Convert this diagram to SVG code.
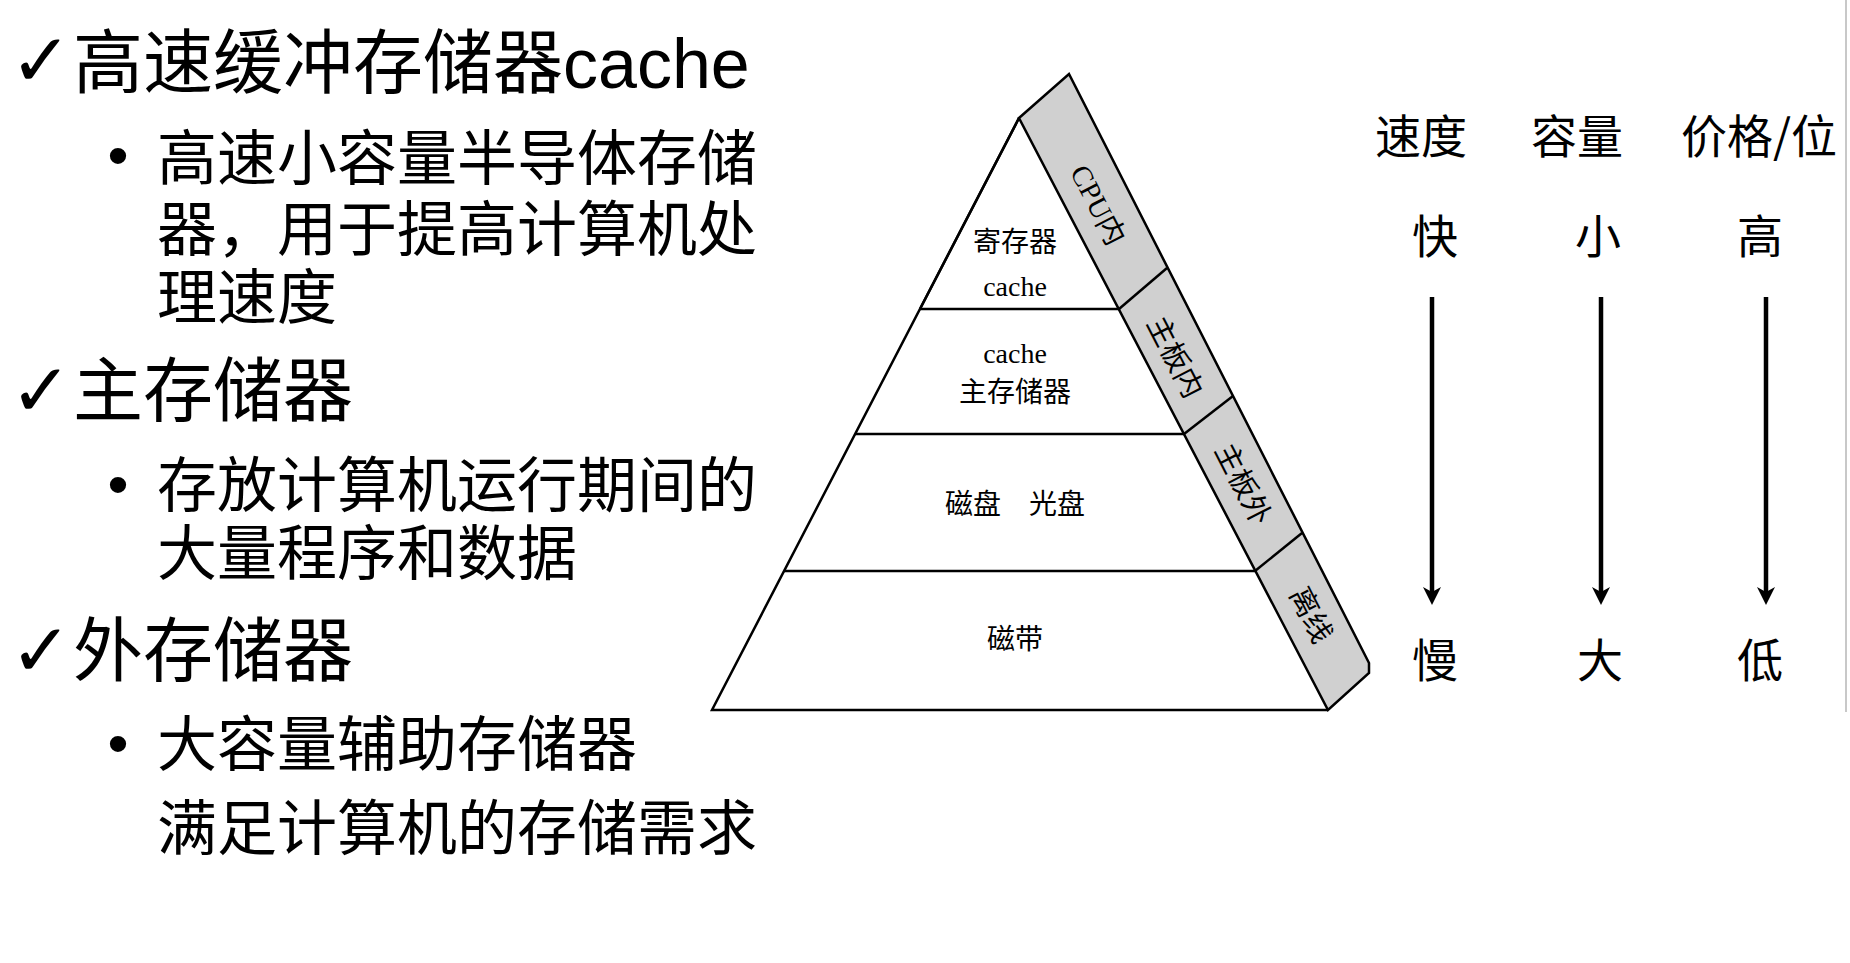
<svg xmlns="http://www.w3.org/2000/svg" width="1850" height="963" viewBox="0 0 1850 963">
<defs>
<style>
.h1{font-family:"Liberation Sans","Noto Sans CJK SC",sans-serif;font-size:70px;fill:#000}
.h2{font-family:"Liberation Sans","Noto Sans CJK SC",sans-serif;font-size:60px;fill:#000}
.chk{font-family:"DejaVu Sans",sans-serif;font-size:74px;font-weight:bold;fill:#000}
.bul{font-family:"Liberation Sans",sans-serif;font-size:60px;fill:#000;text-anchor:middle}
.pt{font-family:"Liberation Serif","Noto Sans CJK SC",serif;font-size:28px;fill:#000;text-anchor:middle}
.bt{font-family:"Liberation Serif","Noto Sans CJK SC",serif;font-size:29px;fill:#000;text-anchor:middle;dominant-baseline:central}
.rt{font-family:"Noto Sans CJK SC",sans-serif;font-size:46px;fill:#000;text-anchor:middle}
.ln{stroke:#000;stroke-width:2.5;fill:none;stroke-linejoin:miter}
.band{fill:#d0d0d0;stroke:#000;stroke-width:2.5;stroke-linejoin:miter}
.arr{stroke:#000;stroke-width:4.5;fill:none}
</style>
<marker id="ah" viewBox="0 0 18 18" refX="8" refY="9" markerWidth="18" markerHeight="18" markerUnits="userSpaceOnUse" orient="auto">
<path d="M0,0 L18,9 L0,18 L5,9 Z" fill="#000"/>
</marker>
</defs>
<rect width="1850" height="963" fill="#fff"/>
<line x1="1846" y1="0" x2="1846" y2="712" stroke="#c8c8c8" stroke-width="2"/>

<g id="text-left">
<text class="chk" x="10" y="86">✓</text>
<text class="h1" x="73" y="88">高速缓冲存储器cache</text>
<text class="bul" x="118" y="176">•</text>
<text class="h2" x="157" y="180">高速小容量半导体存储</text>
<text class="h2" x="157" y="251">器，用于提高计算机处</text>
<text class="h2" x="157" y="319">理速度</text>
<text class="chk" x="10" y="416">✓</text>
<text class="h1" x="73" y="416">主存储器</text>
<text class="bul" x="118" y="505">•</text>
<text class="h2" x="157" y="507">存放计算机运行期间的</text>
<text class="h2" x="157" y="575">大量程序和数据</text>
<text class="chk" x="10" y="676">✓</text>
<text class="h1" x="73" y="676">外存储器</text>
<text class="bul" x="118" y="764">•</text>
<text class="h2" x="157" y="766">大容量辅助存储器</text>
<text class="h2" x="157" y="850">满足计算机的存储需求</text>
</g>

<g id="pyramid">
<polygon class="band" points="1019,118 1069,74 1369,663 1369,673 1328,710"/>
<g id="layer-register">
<path class="ln" d="M1019,118 L920,309"/>
<text class="pt" x="1015" y="252">寄存器</text>
<text class="pt" x="1015" y="296">cache</text>
</g>
<g id="layer-main">
<path class="ln" d="M920,309 L1119,309"/>
<text class="pt" x="1015" y="363">cache</text>
<text class="pt" x="1015" y="402">主存储器</text>
</g>
<g id="layer-disk">
<path class="ln" d="M855,434 L1184,434"/>
<text class="pt" x="1015" y="514">磁盘　光盘</text>
</g>
<g id="layer-tape">
<path class="ln" d="M784,571 L1255,571"/>
<text class="pt" x="1015" y="649">磁带</text>
</g>
<path class="ln" d="M1019,118 L712,710 L1328,710"/>
<g id="band-cpu">
<path class="ln" d="M1119,309 L1167,268"/>
<text class="bt" transform="translate(1098,205) rotate(62.8)">CPU内</text>
</g>
<g id="band-board-in">
<path class="ln" d="M1184,434 L1233,396"/>
<text class="bt" transform="translate(1175,357) rotate(62.8)">主板内</text>
</g>
<g id="band-board-out">
<path class="ln" d="M1255,571 L1302,533"/>
<text class="bt" transform="translate(1243,484) rotate(62.8)">主板外</text>
</g>
<g id="band-offline">
<text class="bt" transform="translate(1311,615) rotate(62.8)">离线</text>
</g>
</g>

<g id="col-speed">
<text class="rt" x="1421" y="153">速度</text>
<text class="rt" x="1435" y="253">快</text>
<text class="rt" x="1435" y="677">慢</text>
</g>
<g id="col-capacity">
<text class="rt" x="1577" y="153">容量</text>
<text class="rt" x="1598" y="253">小</text>
<text class="rt" x="1600" y="677">大</text>
</g>
<g id="col-price">
<text class="rt" x="1759" y="153">价格/位</text>
<text class="rt" x="1760" y="253">高</text>
<text class="rt" x="1760" y="677">低</text>
</g>

<g id="connectors">
<line class="arr" x1="1432" y1="297" x2="1432" y2="595" marker-end="url(#ah)"/>
<line class="arr" x1="1601" y1="297" x2="1601" y2="595" marker-end="url(#ah)"/>
<line class="arr" x1="1766" y1="297" x2="1766" y2="595" marker-end="url(#ah)"/>
</g>
</svg>
